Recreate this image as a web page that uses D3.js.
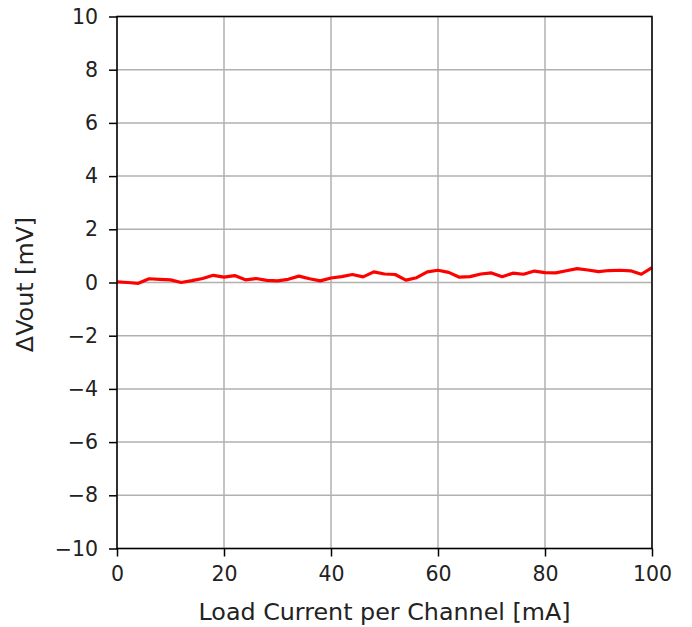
<!DOCTYPE html>
<html>
<head>
<meta charset="utf-8">
<script src="https://cdn.jsdelivr.net/npm/d3@7"></script>
<style>
  body { margin: 0; background: #fff; }
  svg { display: block; font-family: "DejaVu Sans", sans-serif; }
  .tick text { fill: #222; }
</style>
</head>
<body>
<script>
// load current per channel [mA]
var current = [0, 2, 4, 6, 8, 10, 12, 14, 16, 18, 20, 22, 24, 26, 28, 30, 32, 34, 36, 38,
    40, 42, 44, 46, 48, 50, 52, 54, 56, 58, 60, 62, 64, 66, 68, 70, 72, 74, 76, 78,
    80, 82, 84, 86, 88, 90, 92, 94, 96, 98, 100];
// delta Vout [mV]
var dvout = [0.02, 0.0, -0.03, 0.14, 0.12, 0.1, 0.0, 0.07, 0.15, 0.27, 0.2, 0.26, 0.1, 0.15, 0.08, 0.06, 0.12, 0.24, 0.14, 0.06,
    0.17, 0.22, 0.3, 0.21, 0.4, 0.32, 0.3, 0.09, 0.18, 0.4, 0.46, 0.38, 0.2, 0.22, 0.32, 0.36, 0.22, 0.35, 0.31, 0.43,
    0.37, 0.36, 0.44, 0.52, 0.47, 0.41, 0.45, 0.46, 0.44, 0.31, 0.56];
var xTicks = [0, 20, 40, 60, 80, 100];
var yTicks = [-10, -8, -6, -4, -2, 0, 2, 4, 6, 8, 10];

var width = 692, height = 627;
var plotLeft = 117, plotRight = 652, plotTop = 16.5, plotBottom = 548.5;

var svg = d3.select("body")
    .append("svg")
    .attr("width", width)
    .attr("height", height);

var x = d3.scaleLinear().domain([0, 100]).range([plotLeft, plotRight]);
var y = d3.scaleLinear().domain([-10, 10]).range([plotBottom, plotTop]);

// grid
var grid = svg.append("g");
grid.selectAll(".gx")
    .data(xTicks)
    .enter()
    .append("line")
    .attr("x1", function (d) { return x(d); })
    .attr("x2", function (d) { return x(d); })
    .attr("y1", plotTop)
    .attr("y2", plotBottom)
    .attr("stroke", "#b0b0b0")
    .attr("stroke-width", 1.5);
grid.selectAll(".gy")
    .data(yTicks)
    .enter()
    .append("line")
    .attr("x1", plotLeft)
    .attr("x2", plotRight)
    .attr("y1", function (d) { return y(d); })
    .attr("y2", function (d) { return y(d); })
    .attr("stroke", "#b0b0b0")
    .attr("stroke-width", 1.5);

// data line
var line = d3.line()
    .x(function (d, i) { return x(current[i]); })
    .y(function (d) { return y(d); });

svg.append("path")
    .datum(dvout)
    .attr("d", line)
    .attr("fill", "none")
    .attr("stroke", "red")
    .attr("stroke-width", 3.2)
    .attr("stroke-linejoin", "round");

var fmt = function (d) { return d < 0 ? "\u2212" + Math.abs(d) : String(d); };

var xAxis = svg.append("g")
    .attr("transform", "translate(0," + plotBottom + ")")
    .call(d3.axisBottom(x).tickValues(xTicks).tickFormat(fmt).tickSize(8).tickPadding(10));
var yAxis = svg.append("g")
    .attr("transform", "translate(" + plotLeft + ",0)")
    .call(d3.axisLeft(y).tickValues(yTicks).tickFormat(fmt).tickSize(8).tickPadding(11));

[xAxis, yAxis].forEach(function (g) {
    g.select(".domain").remove();
    g.selectAll(".tick line").attr("stroke", "#000").attr("stroke-width", 1.5);
    g.selectAll(".tick text").style("font-size", "20.5px").attr("font-family", "DejaVu Sans");
});

// frame
svg.append("rect")
    .attr("x", plotLeft)
    .attr("y", plotTop)
    .attr("width", plotRight - plotLeft)
    .attr("height", plotBottom - plotTop)
    .attr("fill", "none")
    .attr("stroke", "#000")
    .attr("stroke-width", 1.5);

svg.append("text")
    .attr("x", (plotLeft + plotRight) / 2)
    .attr("y", 620)
    .attr("text-anchor", "middle")
    .style("font-size", "23.8px")
    .attr("fill", "#222")
    .text("Load Current per Channel [mA]");

svg.append("text")
    .attr("transform", "rotate(-90)")
    .attr("x", -(plotTop + plotBottom) / 2 - 2)
    .attr("y", 33)
    .attr("text-anchor", "middle")
    .style("font-size", "23.8px")
    .attr("fill", "#222")
    .text("\u0394Vout [mV]");
</script>
</body>
</html>
